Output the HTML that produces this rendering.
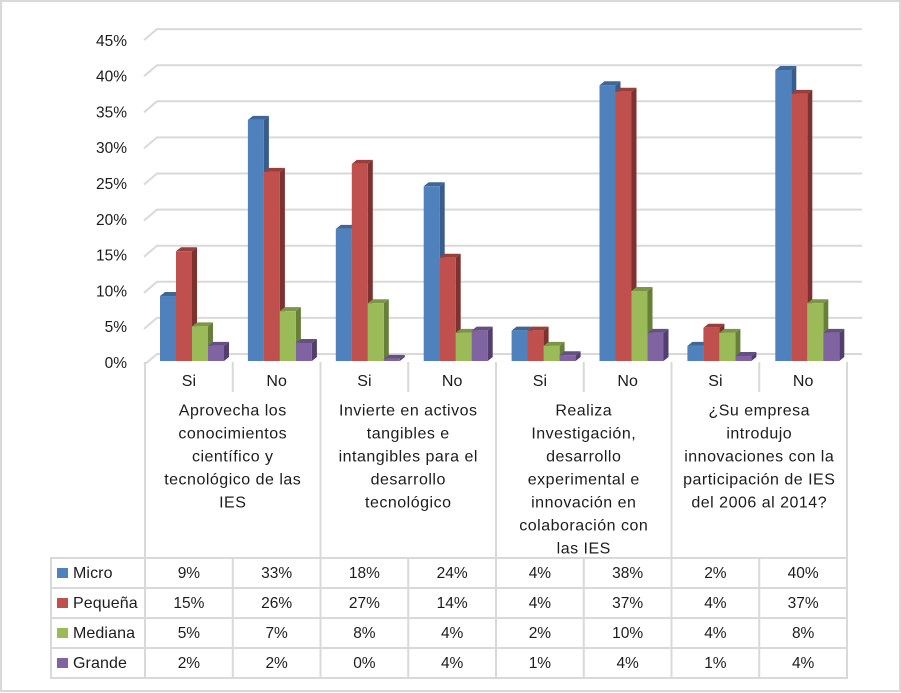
<!DOCTYPE html>
<html lang="es">
<head>
<meta charset="utf-8">
<title>Gráfico de innovación por tamaño de empresa</title>
<style>
html,body{margin:0;padding:0;background:#fff;}
#chart{display:block;width:901px;height:693px;font-family:"Liberation Sans",sans-serif;fill:#1c1c1c;}
#chart text{font-size:15.5px;}
#chart #cats text{font-size:16px;letter-spacing:.5px;}
#chart #legend text{font-size:16px;letter-spacing:.1px;}
#chart #subcats text{font-size:16px;}
.mid{text-anchor:middle;}
.end{text-anchor:end;}
</style>
</head>
<body>
<svg id="chart" xmlns="http://www.w3.org/2000/svg" width="901" height="693" viewBox="0 0 901 693">
  <rect x="1" y="1" width="899" height="690" fill="#fff" stroke="#d9d9d9" stroke-width="2"/>
  <g id="grid"></g>
  <g id="yticks"></g>
  <g id="bars"></g>
  <g id="lines"></g>
  <g id="subcats"></g>
  <g id="cats"></g>
  <g id="legend"></g>
  <g id="cells"></g>
</svg>
<script>
var yTicks = [0, 5, 10, 15, 20, 25, 30, 35, 40, 45];
var subCategories = ["Si", "No", "Si", "No", "Si", "No", "Si", "No"];
var categoryAprovecha = ["Aprovecha los", "conocimientos", "científico y", "tecnológico de las", "IES"];
var categoryInvierte = ["Invierte en activos", "tangibles e", "intangibles para el", "desarrollo", "tecnológico"];
var categoryRealiza = ["Realiza", "Investigación,", "desarrollo", "experimental e", "innovación en", "colaboración con", "las IES"];
var categoryEmpresa = ["¿Su empresa", "introdujo", "innovaciones con la", "participación de IES", "del 2006 al 2014?"];
var seriesNames = ["Micro", "Pequeña", "Mediana", "Grande"];
var micro = [9.0, 33.4, 18.3, 24.2, 4.2, 38.2, 2.1, 40.3];
var pequena = [15.2, 26.2, 27.3, 14.3, 4.2, 37.3, 4.6, 37.0];
var mediana = [4.8, 6.9, 8.0, 3.9, 2.1, 9.7, 3.9, 8.0];
var grande = [2.1, 2.5, 0.3, 4.2, 0.8, 3.9, 0.7, 3.9];
var microPrinted = ["9%", "33%", "18%", "24%", "4%", "38%", "2%", "40%"];
var pequenaPrinted = ["15%", "26%", "27%", "14%", "4%", "37%", "4%", "37%"];
var medianaPrinted = ["5%", "7%", "8%", "4%", "2%", "10%", "4%", "8%"];
var grandePrinted = ["2%", "2%", "0%", "4%", "1%", "4%", "1%", "4%"];

var NS = "http://www.w3.org/2000/svg";
var series = [micro, pequena, mediana, grande];
var printed = [microPrinted, pequenaPrinted, medianaPrinted, grandePrinted];
var categories = [categoryAprovecha, categoryInvierte, categoryRealiza, categoryEmpresa];
var colors = [
  {front: "#4f81bd", top: "#3e6797", side: "#385d8a"},
  {front: "#c0504d", top: "#9a3e3b", side: "#7d3230"},
  {front: "#9bbb59", top: "#7c9646", side: "#66803a"},
  {front: "#8064a2", top: "#665082", side: "#523f6f"}
];
var LINE = "#d9d9d9";

function yBack(v) { return 354 - v * 7.22; }
function yFront(v) { return 361 - v * 7.22; }
function yLabel(v) { return 368 - v * 7.16; }
function slotX(i) { return 145 + i * 87.75; }
function barX(i, s) { return 160 + i * 87.9 + s * 16; }

function add(parent, tag, attrs, txt) {
  var el = document.createElementNS(NS, tag);
  for (var k in attrs) { el.setAttribute(k, attrs[k]); }
  if (txt !== undefined) { el.textContent = txt; }
  parent.appendChild(el);
  return el;
}

var gridG = document.getElementById("grid");
var tickG = document.getElementById("yticks");
yTicks.forEach(function (t) {
  var y = yBack(t);
  var g = add(gridG, "polyline", {points: "144," + (y + 11) + " 157," + y + " 862," + y, fill: "none", stroke: LINE, "stroke-width": 2});
  
  
  var l = add(tickG, "text", {x: 127, y: yLabel(t), "class": "end"}, t + "%");
  
  
});

var barG = document.getElementById("bars");
subCategories.forEach(function (c, i) {
  series.forEach(function (vals, s) {
    var x = barX(i, s), w = 16, dx = 5, dy = 4;
    var top = yFront(vals[i]), bot = yFront(0), col = colors[s];
    var g = add(barG, "g", {});
    
    
    add(g, "polygon", {points: (x + w) + "," + bot + " " + (x + w + dx) + "," + (bot - dy) + " " + (x + w + dx) + "," + (top - dy) + " " + (x + w) + "," + top, fill: col.side});
    add(g, "polygon", {points: x + "," + top + " " + (x + dx) + "," + (top - dy) + " " + (x + w + dx) + "," + (top - dy) + " " + (x + w) + "," + top, fill: col.top});
    add(g, "rect", {x: x, y: top, width: w, height: bot - top, fill: col.front});
  });
});

var lineG = document.getElementById("lines");
function rule(x1, y1, x2, y2) {
  var r = add(lineG, "line", {x1: x1, y1: y1, x2: x2, y2: y2, stroke: LINE, "stroke-width": 2});
  
  
}
var rowTops = [558, 588, 618, 648, 678];
rowTops.forEach(function (y) { rule(51, y, 847, y); });
rule(51, 557, 51, 679);
subCategories.forEach(function (c, i) {
  rule(slotX(i), 362, slotX(i), i % 2 === 0 ? 679 : 392);
  if (i % 2 === 1) { rule(slotX(i), 557, slotX(i), 679); }
  var t = add(document.getElementById("subcats"), "text", {x: slotX(i) + 43.9, y: 386, "class": "mid"}, c);
  
  
});
rule(slotX(8), 362, slotX(8), 679);

var catG = document.getElementById("cats");
categories.forEach(function (linesOf, c) {
  var t = add(catG, "text", {"class": "mid"});
  
  
  linesOf.forEach(function (ln, j) {
    add(t, "tspan", {x: slotX(c * 2 + 1), y: 415.5 + j * 23}, ln);
  });
});

var legG = document.getElementById("legend");
var cellG = document.getElementById("cells");
var rowBase = [578, 608, 638, 668];
seriesNames.forEach(function (n, s) {
  var sw = add(legG, "rect", {x: 57, y: rowBase[s] - 10, width: 11, height: 10, fill: colors[s].front});
  
  
  var tx = add(legG, "text", {x: 73, y: rowBase[s]}, n);
  
  
  printed[s].forEach(function (p, i) {
    var c = add(cellG, "text", {x: slotX(i) + 43.9, y: rowBase[s], "class": "mid"}, p);
    
    
  });
});
</script>
</body>
</html>
